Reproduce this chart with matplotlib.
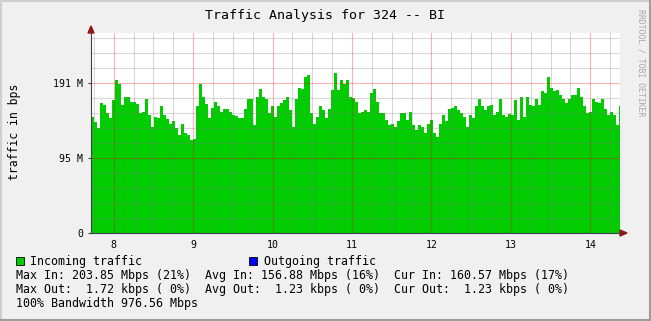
import numpy as np
import matplotlib.pyplot as plt
from matplotlib.patches import Rectangle, Polygon
from matplotlib.lines import Line2D

W, H = 651, 321

# incoming traffic, in the graph's "M" units, one sample per ~2.3 minutes
in_traffic = [
    148, 141, 133, 165, 163, 152, 146, 169, 195, 189, 163, 173, 173, 166, 166,
    164, 152, 154, 170, 150, 135, 148, 146, 161, 150, 145, 138, 142, 133, 125,
    139, 127, 125, 118, 119, 161, 190, 173, 164, 146, 159, 166, 162, 154, 158,
    158, 154, 150, 149, 146, 146, 158, 171, 171, 137, 173, 183, 173, 171, 152,
    161, 148, 161, 165, 169, 173, 156, 135, 171, 184, 183, 199, 201, 152, 139,
    148, 161, 156, 146, 158, 182, 203, 182, 194, 190, 194, 173, 172, 166,
    152, 154, 156, 154, 178, 183, 167, 152, 152, 144, 137, 139, 135, 142, 152,
    152, 144, 154, 137, 131, 137, 135, 127, 139, 144, 127, 122, 139, 150, 142,
    158, 159, 161, 156, 152, 148, 135, 150, 146, 161, 170, 161, 156, 162,
    163, 150, 154, 171, 150, 147, 151, 150, 169, 144, 173, 148, 173, 163, 161,
    171, 163, 180, 178, 199, 184, 180, 182, 175, 171, 165, 171, 175, 175, 184,
    173, 161, 152, 154, 171, 167, 165, 171, 158, 150, 154, 150, 137, 162,
]
t_start = 7.714          # hour of first sample
t_step = 3 / 79.4        # hours per sample
x_range = (7.714, 14.374)
y_top = 255

hour_ticks = [8, 9, 10, 11, 12, 13, 14]
y_ticks = [0, 100 / 1.048576, 200 / 1.048576]
y_labels = ['0', '95 M', '191 M']

title = 'Traffic Analysis for 324 -- BI'
legend_rows = [
    'Max In: 203.85 Mbps (21%)  Avg In: 156.88 Mbps (16%)  Cur In: 160.57 Mbps (17%)',
    'Max Out:  1.72 kbps ( 0%)  Avg Out:  1.23 kbps ( 0%)  Cur Out:  1.23 kbps ( 0%)',
    '100% Bandwidth 976.56 Mbps',
]

MONO = 'DejaVu Sans Mono'
GREEN = '#00CC00'
BG = '#F0F0F0'


def fx(px):
    return px / W


def fy(py):
    return 1 - py / H


fig = plt.figure(figsize=(W / 100, H / 100), dpi=100, facecolor=BG)

# 3d-ish frame round the image
fig.add_artist(Line2D([0, 1], [fy(1), fy(1)], color='#CFCFCF', lw=1.5))
fig.add_artist(Line2D([fx(1), fx(1)], [0, 1], color='#CFCFCF', lw=1.5))
fig.add_artist(Line2D([0, 1], [fy(320), fy(320)], color='#9E9E9E', lw=1.5))
fig.add_artist(Line2D([fx(650), fx(650)], [0, 1], color='#9E9E9E', lw=1.5))

ax = fig.add_axes([fx(91), fy(233), fx(620) - fx(91), fy(32.5) - fy(233)])
ax.set_facecolor('white')

edges = t_start + t_step * np.arange(len(in_traffic) + 1)
ax.stairs(in_traffic, edges, fill=True, color=GREEN, lw=0, zorder=1)

ax.set_xlim(*x_range)
ax.set_ylim(0, y_top)

# grid drawn on top of the area, like rrdtool does
for m in np.arange(7.75, 14.4, 0.25):
    if abs(m - round(m)) > 1e-6:
        ax.axvline(m, color='#808080', alpha=0.3, lw=0.8, zorder=2)
for v in np.arange(1, 14) * 20 / 1.048576:
    if v < y_top and round(v) not in (95, 191):
        ax.axhline(v, color='#808080', alpha=0.3, lw=0.8, zorder=2)
for h in hour_ticks:
    ax.axvline(h, color='#FF0000', alpha=0.3, lw=0.8, zorder=2)
for v in y_ticks[1:]:
    ax.axhline(v, color='#FF0000', alpha=0.3, lw=0.8, zorder=2)

for s in ['top', 'right']:
    ax.spines[s].set_visible(False)
ax.spines['left'].set_color('#404040')
ax.spines['bottom'].set_color('#404050')
ax.spines['left'].set_zorder(3)
ax.spines['bottom'].set_zorder(3)

ax.set_xticks(hour_ticks)
ax.set_xticklabels([str(h) for h in hour_ticks], fontfamily=MONO, fontsize=7.1)
ax.set_yticks(y_ticks)
ax.set_yticklabels(y_labels, fontfamily=MONO, fontsize=7.1)
ax.tick_params(axis='x', length=0, pad=5)
ax.tick_params(axis='y', length=2.5, width=0.8, color='#404040', pad=3)

# axis arrows
fig.add_artist(Polygon([[fx(88), fy(33)], [fx(94), fy(33)], [fx(91), fy(26)]],
                       closed=True, color='#8B1A1A'))
fig.add_artist(Polygon([[fx(620), fy(230)], [fx(620), fy(236)], [fx(627), fy(233)]],
                       closed=True, color='#8B1A1A'))

fig.text(fx(325), fy(16), title, fontfamily=MONO, fontsize=9.5,
         ha='center', va='center')
fig.text(fx(15), fy(131.5), 'traffic in bps', fontfamily=MONO, fontsize=8.3,
         rotation=90, ha='center', va='center')
fig.text(fx(641.5), fy(63), 'RRDTOOL / TOBI OETIKER', fontfamily=MONO,
         fontsize=5.9, color='#A8A8A8', rotation=270, ha='center', va='center')

# legend
fig.add_artist(Rectangle((fx(16), fy(265)), fx(8), 8 / H, facecolor=GREEN,
                         edgecolor='black', lw=0.6))
fig.text(fx(30), fy(261), 'Incoming traffic', fontfamily=MONO, fontsize=8.4,
         va='center')
fig.add_artist(Rectangle((fx(249), fy(265)), fx(8), 8 / H, facecolor='#0000FF',
                         edgecolor='black', lw=0.6))
fig.text(fx(264), fy(261), 'Outgoing traffic', fontfamily=MONO, fontsize=8.4,
         va='center')
for row, py in zip(legend_rows, [275, 289, 303]):
    fig.text(fx(16), fy(py), row, fontfamily=MONO, fontsize=8.4, va='center')

fig.savefig('out.png', dpi=100, facecolor=BG)
